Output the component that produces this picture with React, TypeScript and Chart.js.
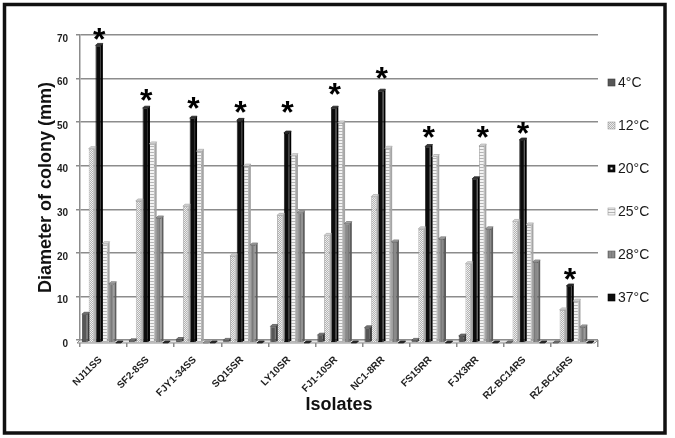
import React, { useEffect, useRef } from "react";
import { Chart, registerables } from "chart.js";

Chart.register(...registerables);

const isolates = ["NJ11SS", "SF2-8SS", "FJY1-34SS", "SQ15SR", "LY10SR", "FJ1-10SR", "NC1-8RR", "FS15RR", "FJX3RR", "RZ-BC14RS", "RZ-BC16RS"];
const seriesLabels = ["4°C", "12°C", "20°C", "25°C", "28°C", "37°C"];

const temp4 = [6.6, 0.5, 0.8, 0.6, 3.8, 1.8, 3.5, 0.6, 1.6, 0, 0];
const temp12 = [44.6, 32.6, 31.4, 20.0, 29.3, 24.7, 33.6, 26.2, 18.2, 27.9, 7.6];
const temp20 = [68.3, 53.9, 51.6, 51.1, 48.2, 53.9, 57.8, 45.1, 37.7, 46.6, 13.1];
const temp25 = [22.8, 45.7, 44.0, 40.6, 43.0, 50.5, 44.7, 42.8, 45.2, 27.1, 9.6];
const temp28 = [13.6, 28.7, 0, 22.5, 29.9, 27.4, 23.2, 23.9, 26.2, 18.6, 3.7];
const temp37 = [0, 0, 0, 0, 0, 0, 0, 0, 0, 0, 0];

// significance marks: which series carries the asterisk, and at what level (mm)
const starSeries = [2, 2, 2, 2, 2, 2, 2, 2, 3, 2, 2];
const starLevels = [70.9, 56.9, 55.0, 54.1, 54.1, 58.3, 61.9, 48.4, 48.4, 49.3, 15.8];

const yTicksMax = 70;
const yTicksStep = 10;

const FONT = "'Liberation Sans', Arial, sans-serif";

export default function App() {
  const ref = useRef<HTMLCanvasElement>(null);

  useEffect(() => {
    const canvas = ref.current!;
    const mk = (w: number, h: number, draw: (g: CanvasRenderingContext2D) => void) => {
      const c = document.createElement("canvas");
      c.width = w;
      c.height = h;
      const g = c.getContext("2d")!;
      draw(g);
      return g.createPattern(c, "repeat")!;
    };
    const dotted = mk(2, 2, (g) => {
      g.fillStyle = "#ededed";
      g.fillRect(0, 0, 2, 2);
      g.fillStyle = "#b2b2b2";
      g.fillRect(0, 0, 1, 1);
      g.fillRect(1, 1, 1, 1);
    });
    const striped = mk(1, 3, (g) => {
      g.fillStyle = "#f3f3f3";
      g.fillRect(0, 0, 1, 3);
      g.fillStyle = "#b4b4b4";
      g.fillRect(0, 2, 1, 1);
    });
    const gray28 = mk(3, 1, (g) => {
      g.fillStyle = "#8a8a8a";
      g.fillRect(0, 0, 3, 1);
      g.fillStyle = "#7a7a7a";
      g.fillRect(2, 0, 1, 1);
    });

    const fills: any[] = ["#575757", dotted, "#0c0c0c", striped, gray28, "#0c0c0c"];
    const borders = ["#3a3a3a", "#9c9c9c", "#000000", "#9a9a9a", "#5c5c5c", "#000000"];
    const sideCols = ["#3a3a3a", "#a8a8a8", "#000000", "#a5a5a5", "#5e5e5e", "#000000"];
    const topCols = ["#7a7a7a", "#d8d8d8", "#3a3a3a", "#dddddd", "#a8a8a8", "#3a3a3a"];
    const seriesData = [temp4, temp12, temp20, temp25, temp28, temp37];

    const DX = -2;
    const DY = 3;
    const D = 2;

    const frontPlane = {
      id: "frontPlane",
      beforeDatasetsDraw(chart: any) {
        const { ctx, chartArea } = chart;
        ctx.save();
        ctx.beginPath();
        ctx.moveTo(chartArea.left, chartArea.bottom);
        ctx.lineTo(chartArea.right, chartArea.bottom);
        ctx.lineTo(chartArea.right + DX - 1, chartArea.bottom + DY);
        ctx.lineTo(chartArea.left + DX - 1, chartArea.bottom + DY);
        ctx.closePath();
        ctx.fillStyle = "#e6e6e6";
        ctx.fill();
        ctx.strokeStyle = "#8c8c8c";
        ctx.lineWidth = 1;
        ctx.stroke();
        ctx.restore();
        ctx.save();
        ctx.translate(DX, DY);
      },
      afterDatasetsDraw(chart: any) {
        const { ctx } = chart;
        chart.data.datasets.forEach((_ds: any, di: number) => {
          const meta = chart.getDatasetMeta(di);
          meta.data.forEach((bar: any) => {
            const { x, y, base, width } = bar.getProps(["x", "y", "base", "width"], true);
            const x0 = x - width / 2;
            const x1 = x + width / 2;
            ctx.fillStyle = sideCols[di];
            ctx.beginPath();
            ctx.moveTo(x1, y);
            ctx.lineTo(x1 + D, y - D);
            ctx.lineTo(x1 + D, base - D);
            ctx.lineTo(x1, base);
            ctx.closePath();
            ctx.fill();
            ctx.fillStyle = topCols[di];
            ctx.beginPath();
            ctx.moveTo(x0, y);
            ctx.lineTo(x0 + D, y - D);
            ctx.lineTo(x1 + D, y - D);
            ctx.lineTo(x1, y);
            ctx.closePath();
            ctx.fill();
            ctx.strokeStyle = borders[di];
            ctx.lineWidth = 0.6;
            ctx.stroke();
          });
        });
        ctx.restore();

        // asterisks
        ctx.save();
        ctx.font = `bold 32px ${FONT}`;
        ctx.fillStyle = "#000";
        ctx.textAlign = "center";
        ctx.textBaseline = "alphabetic";
        const m = ctx.measureText("*");
        const asc = m.actualBoundingBoxAscent;
        const desc = m.actualBoundingBoxDescent;
        const yScale = chart.scales.y;
        starSeries.forEach((si, i) => {
          const bar = chart.getDatasetMeta(si).data[i];
          const cx = bar.x + DX + 1;
          const cy = yScale.getPixelForValue(starLevels[i]) + DY;
          const baseline = cy - (desc - asc) / 2;
          ctx.fillText("*", cx, baseline);
        });
        ctx.restore();
      },
    };

    const legendAndFrame = {
      id: "legendAndFrame",
      afterDraw(chart: any) {
        const { ctx } = chart;
        ctx.save();
        const y0 = 83;
        const step = 43;
        seriesLabels.forEach((lab, i) => {
          const cy = y0 + i * step;
          ctx.fillStyle = fills[i];
          ctx.fillRect(608, cy - 4, 7, 7);
          ctx.strokeStyle = borders[i];
          ctx.lineWidth = 0.6;
          ctx.strokeRect(608, cy - 4, 7, 7);
          if (i === 2) {
            ctx.fillStyle = "#ffffff";
            ctx.fillRect(610.5, cy - 1.5, 2, 2);
          }
          ctx.fillStyle = "#1a1a1a";
          ctx.font = `14px ${FONT}`;
          ctx.textAlign = "left";
          ctx.textBaseline = "middle";
          ctx.fillText(lab, 618, cy);
        });
        ctx.strokeStyle = "#111";
        ctx.lineWidth = 3.5;
        ctx.strokeRect(4.5, 4.5, 660.5, 428.5);
        ctx.restore();
      },
    };

    const chart = new Chart(canvas, {
      type: "bar",
      data: {
        labels: isolates,
        datasets: seriesLabels.map((lab, i) => ({
          label: lab,
          data: seriesData[i],
          backgroundColor: fills[i],
          borderColor: borders[i],
          borderWidth: 0.8,
          barPercentage: 0.8,
          categoryPercentage: 0.86,
        })),
      },
      options: {
        responsive: false,
        animation: false,
        devicePixelRatio: 1,
        layout: { padding: { left: 30, right: 77, top: 35, bottom: 20 } },
        plugins: {
          legend: { display: false },
          tooltip: { enabled: false },
        },
        scales: {
          x: {
            grid: {
              offset: true,
              drawOnChartArea: false,
              color: "#8c8c8c",
              lineWidth: 1.5,
              tickLength: 7,
            },
            border: { display: false },
            ticks: {
              font: { family: FONT, size: 10, weight: "bold" },
              color: "#1e1e1e",
              minRotation: 45,
              maxRotation: 45,
              autoSkip: false,
              padding: 7,
              labelOffset: -3,
            },
            title: {
              display: true,
              text: "Isolates",
              font: { family: FONT, size: 18, weight: "bold" },
              color: "#111",
              padding: { top: 0, bottom: 2 },
            },
            afterFit: (s: any) => {
              s.height = 78;
            },
          },
          y: {
            min: 0,
            max: yTicksMax,
            ticks: {
              stepSize: yTicksStep,
              font: { family: FONT, size: 10, weight: "bold" },
              color: "#1e1e1e",
              padding: 8,
              labelOffset: 4,
            },
            grid: { color: "#8c8c8c", lineWidth: 1.5, tickLength: 4 },
            border: { color: "#8c8c8c", width: 1.5 },
            title: {
              display: true,
              text: "Diameter of colony (mm)",
              font: { family: FONT, size: 18, weight: "bold" },
              color: "#111",
              padding: { top: 5, bottom: 0 },
            },
            afterFit: (s: any) => {
              s.width = 50;
            },
          },
        },
      } as any,
      plugins: [frontPlane, legendAndFrame],
    });
    return () => chart.destroy();
  }, []);

  return (
    <div style={{ position: "fixed", left: 0, top: 0, width: 675, height: 438, background: "#fff" }}>
      <canvas ref={ref} width={675} height={438} style={{ display: "block", width: 675, height: 438 }} />
    </div>
  );
}
